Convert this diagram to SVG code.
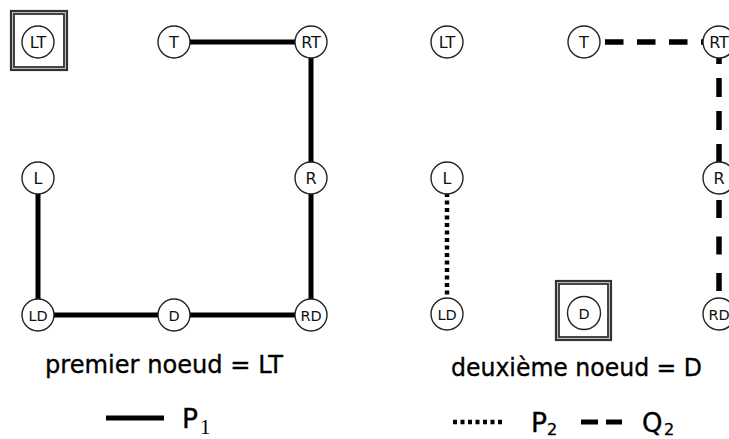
<svg xmlns="http://www.w3.org/2000/svg" width="729" height="439" viewBox="0 0 729 439">
<style>
.n circle{fill:#fff;stroke:#222;stroke-width:1.4}
.n text{font-family:"DejaVu Sans",sans-serif;font-size:16px;text-anchor:middle;fill:#111}
.n text.s{font-size:14.5px}
.box1{fill:none;stroke:#333;stroke-width:2.2}
.box2{fill:none;stroke:#aaa;stroke-width:1}
.box3{fill:none;stroke:#333;stroke-width:1.8}
.solid{stroke:#000;stroke-width:5;fill:none}
.dash{stroke:#000;stroke-width:5.5;fill:none}
.dot{stroke:#000;stroke-width:4.5;fill:none;stroke-dasharray:4 3.5}
.lbl{font-family:"DejaVu Sans",sans-serif;fill:#000;stroke:#000;stroke-width:0.35}
</style>
<rect width="729" height="439" fill="#fff"/>
<g id="connectors">
<path class="solid" d="M38,178 V315 H311 V42 H174"/>
<line class="dash" x1="605" y1="42" x2="719" y2="42" stroke-dasharray="18.5 13.5"/>
<line class="dash" x1="719" y1="45" x2="719" y2="163" stroke-dasharray="19 14"/>
<line class="dash" x1="719" y1="200" x2="719" y2="292" stroke-dasharray="18 18.5"/>
<line class="dot" x1="447" y1="193" x2="447" y2="298"/>
</g>
<g id="box-LT">
<rect class="box1" x="11" y="11" width="56" height="59"/>
<rect class="box2" x="12.8" y="12.8" width="52.4" height="55.4"/>
<rect class="box3" x="14" y="14" width="50" height="53"/>
</g>
<g id="box-D2">
<rect class="box1" x="556" y="281" width="55" height="59"/>
<rect class="box2" x="557.8" y="282.8" width="51.4" height="55.4"/>
<rect class="box3" x="559" y="284" width="49" height="53"/>
</g>
<g id="n1-LT" class="n"><circle cx="38" cy="42" r="16"/><text x="38" y="48">LT</text></g>
<g id="n1-T" class="n"><circle cx="174" cy="42" r="16"/><text x="174" y="48">T</text></g>
<g id="n1-RT" class="n"><circle cx="311" cy="42" r="16"/><text x="311" y="48">RT</text></g>
<g id="n1-L" class="n"><circle cx="38" cy="178" r="16"/><text x="38" y="184">L</text></g>
<g id="n1-R" class="n"><circle cx="311" cy="178" r="16"/><text x="311" y="184">R</text></g>
<g id="n1-LD" class="n"><circle cx="38" cy="315" r="16"/><text class="s" x="38" y="320.5">LD</text></g>
<g id="n1-D" class="n"><circle cx="174" cy="315" r="16"/><text class="s" x="174" y="320.5">D</text></g>
<g id="n1-RD" class="n"><circle cx="311" cy="315" r="16"/><text class="s" x="311" y="320.5">RD</text></g>
<g id="n2-LT" class="n"><circle cx="447" cy="42" r="16"/><text x="447" y="48">LT</text></g>
<g id="n2-T" class="n"><circle cx="584" cy="42" r="16"/><text x="584" y="48">T</text></g>
<g id="n2-RT" class="n"><circle cx="719" cy="42" r="16"/><text x="719" y="48">RT</text></g>
<g id="n2-L" class="n"><circle cx="447" cy="178" r="16"/><text x="447" y="184">L</text></g>
<g id="n2-R" class="n"><circle cx="719" cy="178" r="16"/><text x="719" y="184">R</text></g>
<g id="n2-LD" class="n"><circle cx="447" cy="314" r="16"/><text class="s" x="447" y="319.5">LD</text></g>
<g id="n2-D" class="n"><circle cx="584" cy="313" r="16.5"/><text class="s" x="584" y="318.5">D</text></g>
<g id="n2-RD" class="n"><circle cx="719" cy="314" r="16"/><text class="s" x="719" y="319.5">RD</text></g>
<g id="labels">
<text class="lbl" x="45" y="373" font-size="24" textLength="238" lengthAdjust="spacingAndGlyphs">premier noeud = LT</text>
<text class="lbl" x="451" y="376" font-size="24" textLength="251" lengthAdjust="spacingAndGlyphs">deuxième noeud = D</text>
</g>
<g id="legend">
<line class="solid" x1="106" y1="418" x2="164" y2="418"/>
<text class="lbl" x="182" y="428" font-size="26" textLength="16" lengthAdjust="spacingAndGlyphs">P</text>
<text x="200" y="434" font-size="21" font-family="'Liberation Serif',serif">1</text>
<line class="dot" x1="453" y1="422" x2="505" y2="422"/>
<text class="lbl" x="531" y="432" font-size="26" textLength="16" lengthAdjust="spacingAndGlyphs">P</text>
<text class="lbl" x="547" y="435" font-size="16">2</text>
<line class="solid" x1="581" y1="422" x2="598" y2="422"/>
<line class="solid" x1="606" y1="422" x2="622" y2="422"/>
<text class="lbl" x="642" y="432" font-size="26">Q</text>
<text class="lbl" x="664" y="435" font-size="16">2</text>
</g>
</svg>
